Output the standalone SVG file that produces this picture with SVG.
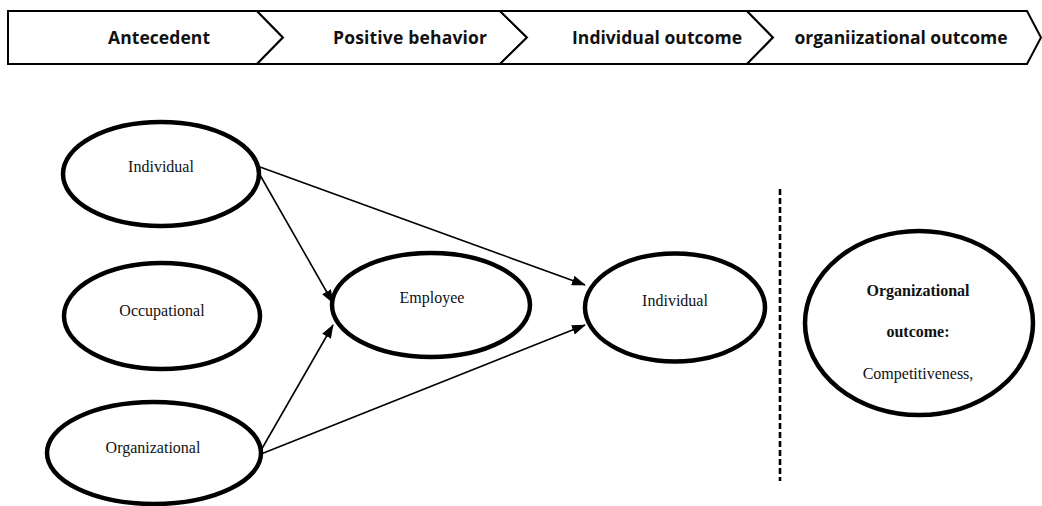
<svg xmlns="http://www.w3.org/2000/svg" width="1042" height="506" viewBox="0 0 1042 506">
<style>
.bar{fill:#fff;stroke:#000;stroke-width:2;stroke-linejoin:miter}
.bt{font-family:"Open Sans","Liberation Sans",sans-serif;font-weight:bold;font-size:17.5px;fill:#111;text-anchor:middle}
.node{fill:#fff;stroke:#000;stroke-width:4.5}
.nt{font-family:"Liberation Serif","Times New Roman",serif;font-size:16px;fill:#111;text-anchor:middle}
.nb{font-weight:bold}
.edge{stroke:#000;stroke-width:1.6;fill:none;marker-end:url(#ah)}
.dash{stroke:#000;stroke-width:2.6;stroke-dasharray:6,3}
</style>
<defs>
<marker id="ah" viewBox="0 0 14 10" refX="13" refY="5" markerWidth="14" markerHeight="10" markerUnits="userSpaceOnUse" orient="auto">
<path d="M0,0 L14,5 L0,10 Z" fill="#000"/>
</marker>
</defs>
<rect width="1042" height="506" fill="#fff"/>
<g id="stages">
<path class="bar" d="M8,11 H257 L283,37.5 L257,64 H8 Z"/>
<path class="bar" d="M257,11 H500 L527,37.5 L500,64 H257 L283,37.5 Z"/>
<path class="bar" d="M500,11 H747 L773,37.5 L747,64 H500 L527,37.5 Z"/>
<path class="bar" d="M747,11 H1027 L1041,37.5 L1027,64 H747 L773,37.5 Z"/>
<text class="bt" x="159" y="43.5" textLength="102">Antecedent</text>
<text class="bt" x="410" y="43.5" textLength="154">Positive behavior</text>
<text class="bt" x="657" y="43.5" textLength="170">Individual outcome</text>
<text class="bt" x="901" y="43.5" textLength="213">organiizational outcome</text>
</g>
<g id="connectors">
<line class="edge" x1="260" y1="175" x2="333" y2="303"/>
<line class="edge" x1="260" y1="452" x2="333" y2="325"/>
<line class="edge" x1="260" y1="167" x2="585" y2="285"/>
<line class="edge" x1="261" y1="454" x2="585" y2="325"/>
<line class="dash" x1="780" y1="189" x2="780" y2="481"/>
</g>
<g id="n-individual">
<ellipse class="node" cx="161" cy="174" rx="98" ry="52"/>
<text class="nt" x="161" y="172">Individual</text>
</g>
<g id="n-occupational">
<ellipse class="node" cx="162" cy="316" rx="98" ry="53"/>
<text class="nt" x="162" y="316">Occupational</text>
</g>
<g id="n-organizational">
<ellipse class="node" cx="154" cy="453" rx="107" ry="51"/>
<text class="nt" x="153" y="453">Organizational</text>
</g>
<g id="n-employee">
<ellipse class="node" cx="431" cy="305" rx="99" ry="52"/>
<text class="nt" x="432" y="303">Employee</text>
</g>
<g id="n-individual-outcome">
<ellipse class="node" cx="675" cy="307.5" rx="90" ry="54"/>
<text class="nt" x="675" y="306">Individual</text>
</g>
<g id="n-org-outcome">
<ellipse class="node" cx="919" cy="323" rx="114" ry="92"/>
<text class="nt nb" x="918" y="296">Organizational</text>
<text class="nt nb" x="918" y="337">outcome:</text>
<text class="nt" x="918" y="379">Competitiveness,</text>
</g>
</svg>
